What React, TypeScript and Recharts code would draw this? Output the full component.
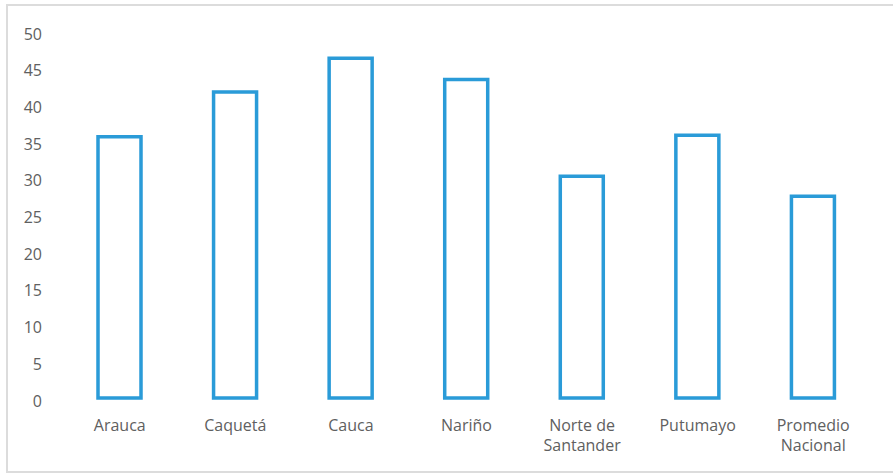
import React from "react";
import { BarChart, Bar, XAxis, YAxis, Text } from "recharts";

const categories = ["Arauca", "Caquetá", "Cauca", "Nariño", "Norte de Santander", "Putumayo", "Promedio Nacional"];
const values = [35.6, 41.7, 46.3, 43.4, 30.2, 35.8, 27.5];
const yTicks = [0, 5, 10, 15, 20, 25, 30, 35, 40, 45, 50];

const data = categories.map((name, i) => ({ name, value: values[i] }));

const FONT = "'Open Sans', sans-serif";
const TEXT_COLOR = "#606060";

const XTick = (props: any) => {
  const { x, y, payload } = props;
  return (
    <Text
      x={x}
      y={y}
      width={95}
      textAnchor="middle"
      verticalAnchor="start"
      lineHeight={20}
      fill={TEXT_COLOR}
      fontSize={16}
      fontFamily={FONT}
    >
      {payload.value}
    </Text>
  );
};

const YTick = (props: any) => {
  const { x, y, payload } = props;
  return (
    <text x={x} y={y} dy={8.5} textAnchor="end" fill={TEXT_COLOR} fontSize={16} fontFamily={FONT}>
      {payload.value}
    </text>
  );
};

export default function App() {
  return (
    <div style={{ position: "absolute", left: 0, top: 0, width: 893, height: 473, overflow: "hidden" }}>
      <div
        style={{
          position: "absolute",
          left: 6,
          top: 4,
          width: 892,
          height: 469,
          border: "2px solid #dcdcdc",
          boxSizing: "border-box",
        }}
      />
      <BarChart
        width={893}
        height={473}
        data={data}
        margin={{ top: 31, right: 22, bottom: 15, left: 12 }}
        style={{ position: "absolute", left: 0, top: 0 }}
      >
        <XAxis
          dataKey="name"
          axisLine={false}
          tickLine={false}
          tickSize={0}
          tickMargin={22}
          height={60}
          interval={0}
          tick={<XTick />}
        />
        <YAxis
          domain={[0, 50]}
          ticks={yTicks}
          axisLine={false}
          tickLine={false}
          tickSize={0}
          tickMargin={20}
          width={50}
          interval={0}
          tick={<YTick />}
        />
        <Bar
          dataKey="value"
          fill="#ffffff"
          stroke="#2a9bd8"
          strokeWidth={3.5}
          barSize={43}
          isAnimationActive={false}
        />
      </BarChart>
    </div>
  );
}
